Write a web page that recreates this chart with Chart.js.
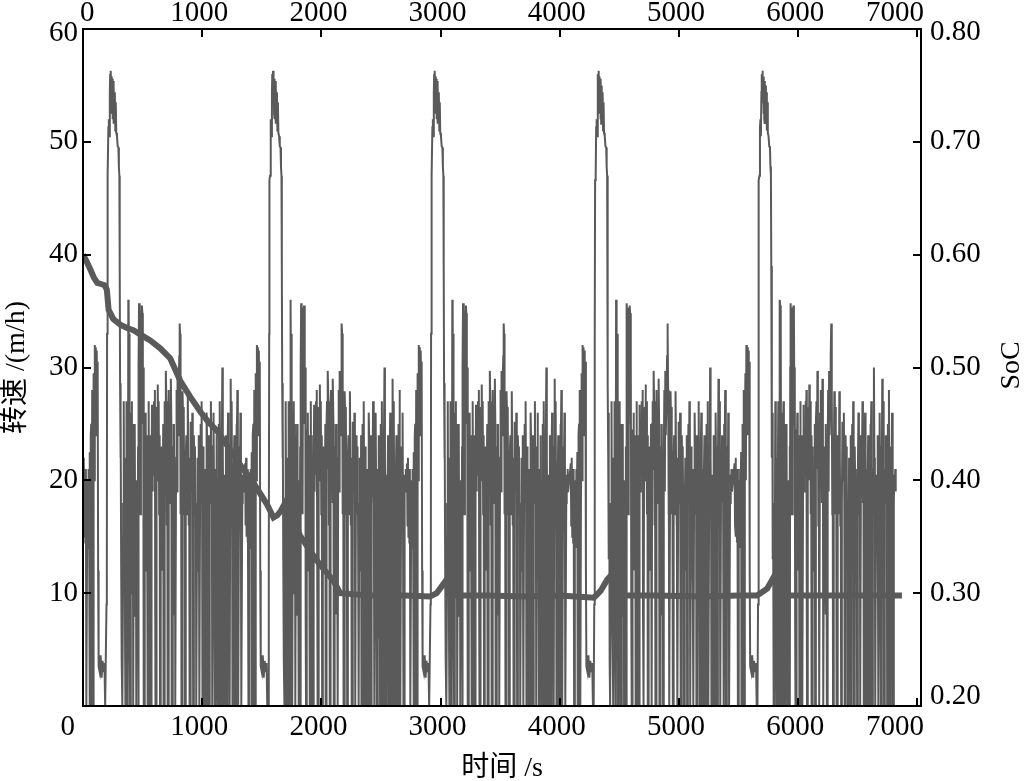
<!DOCTYPE html>
<html>
<head>
<meta charset="utf-8">
<script src="https://cdn.jsdelivr.net/npm/chart.js@4.4.1/dist/chart.umd.min.js"></script>
<style>
html,body{margin:0;padding:0;background:#fff;}
#wrap{width:1024px;height:781px;}
</style>
</head>
<body>
<div id="wrap"><canvas id="c" width="1024" height="781"></canvas></div>
<script>
// ---- tick labels / axis titles ----
const timeTicks = [0, 1000, 2000, 3000, 4000, 5000, 6000, 7000];
const speedTicks = [10, 20, 30, 40, 50, 60];
const socTicks = [0.20, 0.30, 0.40, 0.50, 0.60, 0.70, 0.80];
const xTitle = '时间 /s';
const yTitle = '转速 /(m/h)';
const y2Title = 'SoC';

// ---- speed: the same drive cycle is repeated five times in the picture ----
// start time of each repetition (s), read from the positions of the five 56 m/h peaks
const cycleStarts = [0, 1360, 2718, 4092, 5466];
// time within one repetition (s)
const cycleTime = [
  0,4,8,12,16,20,24,28,33,35,39,43,47,51,55,58,63,65,69,73,77,80,85,87,91,95,99,103,107,111,115,119,123,127,131,
  140,148,156,164,172,180,186,192,197,200,
  202,204,209,213,217,221,225,228,231,234,237,240,243,246,249,252,255,259,263,267,271,275,279,285,291,297,301,305,308,311,314,317,320,323,326,
  330,335,338,342,346,350,353,356,361,363,367,371,374,377,380,383,386,389,392,395,
  400,402,406,410,414,418,421,426,428,432,436,440,444,447,452,454,458,462,465,467,
  470,474,478,482,486,490,494,498,502,505,508,511,516,518,522,526,530,534,538,541,
  544,549,551,555,559,562,565,
  568,573,575,579,583,587,591,595,599,603,
  606,608,613,615,619,623,627,631,635,639,
  643,646,651,653,657,661,665,669,673,676,
  681,683,687,691,695,699,703,707,710,715,
  717,721,725,729,733,737,741,744,749,751,
  755,759,763,767,771,774,779,781,785,789,
  793,797,801,805,808,811,814,817,820,823,
  826,831,833,837,841,845,849,853,856,861,
  863,867,871,875,879,883,887,891,894,899,
  901,905,909,913,917,921,924,929,931,935,
  939,943,947,950,955,957,961,965,969,973,
  976,981,983,987,991,995,999,1002,1007,1009,
  1013,1017,1021,1025,1028,1033,1035,1039,1043,1047,
  1051,1054,1059,1061,1065,1069,1073,1077,1081,1084,
  1089,1091,1095,1099,1103,1106,1111,1113,1117,1121,
  1125,1129,1132,1137,1139,1143,1147,1151,1154,1159,
  1161,1165,1169,1173,1177,1180,1185,1187,1191,1195,
  1199,1203,1206,1211,1213,1217,1221,1225,1228,1233,
  1235,1239,1243,1247,1251,1254,1259,1261,1265,1269,
  1273,1277,1280,1285,1287,1291,1295,1299,1302,1307,
  1309,1313,1317,1321,1325,1328,1333,1336,1340,1344,
  1348,1352
];
// speed (m/h) at those times
const cycleSpeed = [
  21.5,16,22,15,20,14.5,21,0,0,16,20,14,21,18,22.5,0,0,24,25,10,28,0,0,24,29.5,20,32,30,31.8,24,31.5,28,30.5,12,3.5,
  3,4.5,2.5,4,3,3.8,0,0,9,12,
  33,46.6,47,51.3,52,50.5,54.4,56,53.5,56.3,54,55.8,52.5,55.6,52,55.4,51.6,55,52,54.4,51,53.5,50.8,50.5,49.6,49.5,47.8,47,39,28.6,22,26,13,18,4,
  0,0,15,27,12,22,5,0,0,19,27,9.5,24,0,36,35.5,27,33,9.5,0,
  0,26,21,27,10,25,0,0,24,17,25,8,20,0,0,20,11,23,0,30,
  35.7,34.5,35.3,17,35,34.2,35.5,34.8,25,30,7.7,0,0,24.5,16,26,12,22,17,24,
  0,0,27,12,24,6,21,
  0,0,20,26.7,19,24,20.5,27,22,28,
  8,0,0,22,26.5,20,28.5,23,27,17,
  24,0,0,21,23,12,13,19,25,0,
  0,25,27,21,29.7,27,16,22,0,0,
  26,28,20,24,18,29,25,0,0,19,
  23,18,25,8.1,21,0,0,22,28,19,
  29.7,24,26,29,31,33.9,33,28,17,24,
  0,0,20,27.9,25,26.5,17,22,0,0,
  22,24,18,17,27.9,22,16,19,0,0,
  18,25.2,24,20,26,17,0,0,24,21.5,
  23,17,18,0,0,17,22,12,12.5,24,
  0,0,21,25,19,27,18,0,0,23,
  18.9,21,11,11.5,0,0,20,26,22.5,17,
  24,0,0,24,19,18.5,27,18,22,0,
  0,23,26,19,21,0,0,21,18.9,24,
  6,20,0,0,25,22,27,17,0,0,
  19,21,30,22,17,0,0,18,20.5,19,
  24,18,0,0,22,26,19,23,0,0,
  20,29,19,27,16,0,0,21,18.9,24,
  18,22,0,0,25,22,28,17,0,0,
  19,23,19,26,15,0,0,18,20.5,19,
  21,19
];

// ---- SoC ----
const socTime = [0,30,61,90,120,150,180,200,215,254,313,370,423,500,564,648,732,817,900,983,1050,1123,1190,1262,1330,1402,1470,1542,1570,1598,1630,1660,1696,1710,1738,1780,1821,1890,1961,2030,2101,2157,2400,2700,2911,2967,3023,3065,3085,3095,3107,3400,3700,4000,4286,4342,4398,4440,4450,4460,4800,5200,5500,5655,5739,5809,5818,5828,6200,6500,6870];
const socValue = [0.600,0.594,0.587,0.580,0.575,0.574,0.573,0.569,0.551,0.543,0.538,0.535,0.533,0.528,0.524,0.517,0.508,0.488,0.474,0.461,0.452,0.444,0.434,0.423,0.412,0.402,0.391,0.379,0.373,0.367,0.369,0.373,0.380,0.377,0.367,0.360,0.351,0.340,0.329,0.320,0.311,0.300,0.298,0.298,0.297,0.300,0.308,0.314,0.316,0.310,0.298,0.298,0.297,0.298,0.296,0.302,0.312,0.317,0.308,0.298,0.298,0.297,0.298,0.298,0.304,0.317,0.308,0.298,0.298,0.298,0.298];

// ---- build library tables ----
const speedPoints = [];
cycleStarts.forEach(s => cycleTime.forEach((t, i) => speedPoints.push({ x: s + t, y: cycleSpeed[i] })));
const socPoints = socTime.map((t, i) => ({ x: t, y: socValue[i] }));

const LINE = '#5a5a5a';
const FONT_FAMILY = "'Liberation Serif', 'Times New Roman', 'Noto Sans CJK SC', serif";

// draws frame, inward ticks, tick labels and axis titles
const frame = {
  id: 'frame',
  afterDraw(chart) {
    const { ctx, chartArea: a, scales } = chart;
    ctx.save();
    ctx.strokeStyle = '#000';
    ctx.lineWidth = 2;
    ctx.strokeRect(a.left, a.top, a.right - a.left, a.bottom - a.top);
    ctx.beginPath();
    timeTicks.forEach(v => {
      if (v === 0) return;
      const x = Math.round(scales.x.getPixelForValue(v));
      ctx.moveTo(x, a.bottom); ctx.lineTo(x, a.bottom - 8);
      ctx.moveTo(x, a.top); ctx.lineTo(x, a.top + 8);
    });
    speedTicks.forEach(v => {
      const y = Math.round(scales.y.getPixelForValue(v));
      ctx.moveTo(a.left, y); ctx.lineTo(a.left + 8, y);
    });
    socTicks.forEach(v => {
      const y = Math.round(scales.y2.getPixelForValue(v));
      ctx.moveTo(a.right, y); ctx.lineTo(a.right - 8, y);
    });
    ctx.stroke();

    ctx.fillStyle = '#000';
    ctx.font = '29px ' + FONT_FAMILY;
    ctx.textBaseline = 'middle';
    // time tick labels (top and bottom)
    const last = timeTicks.length - 1;
    timeTicks.forEach((v, i) => {
      const x = scales.x.getPixelForValue(v);
      const label = String(v);
      if (i === 0) {
        ctx.textAlign = 'left';  ctx.fillText(label, a.left - 3, 13);
        ctx.textAlign = 'right'; ctx.fillText(label, a.left - 8, a.bottom + 21);
      } else if (i === last) {
        ctx.textAlign = 'right';
        ctx.fillText(label, a.right + 3, 13);
        ctx.fillText(label, a.right + 3, a.bottom + 21);
      } else {
        ctx.textAlign = 'center';
        ctx.fillText(label, x - 3, 13);
        ctx.fillText(label, x - 3, a.bottom + 21);
      }
    });
    // speed tick labels (left)
    ctx.textAlign = 'right';
    speedTicks.forEach(v => {
      const y = Math.min(Math.max(scales.y.getPixelForValue(v), a.top + 4), a.bottom - 10);
      ctx.fillText(String(v), a.left - 5, y);
    });
    // SoC tick labels (right)
    ctx.textAlign = 'left';
    socTicks.forEach(v => {
      const y = Math.min(Math.max(scales.y2.getPixelForValue(v), a.top + 3), a.bottom - 10);
      ctx.fillText(v.toFixed(2), a.right + 9, y);
    });

    // axis titles
    ctx.font = '28px ' + FONT_FAMILY;
    ctx.textAlign = 'center';
    ctx.textBaseline = 'alphabetic';
    ctx.fillText(xTitle, (a.left + a.right) / 2, 776);
    ctx.save();
    ctx.translate(17, (a.top + a.bottom) / 2);
    ctx.rotate(-Math.PI / 2);
    ctx.textBaseline = 'middle';
    ctx.fillText(yTitle, 0, 0);
    ctx.restore();
    ctx.save();
    ctx.translate(1012, (a.top + a.bottom) / 2 - 2);
    ctx.rotate(-Math.PI / 2);
    ctx.textBaseline = 'middle';
    ctx.fillText(y2Title, 0, 0);
    ctx.restore();
    ctx.restore();
  }
};

const noGrid = { display: false, drawTicks: false };
const border = { display: true, color: '#000', width: 2 };
const hiddenTicks = { display: false };

new Chart(document.getElementById('c'), {
  type: 'line',
  data: {
    datasets: [
      { data: socPoints, xAxisID: 'x', yAxisID: 'y2', borderColor: LINE, borderWidth: 6, pointRadius: 0, tension: 0, order: 0 },
      { data: speedPoints, xAxisID: 'x', yAxisID: 'y', borderColor: LINE, borderWidth: 2, pointRadius: 0, tension: 0, order: 1 }
    ]
  },
  options: {
    responsive: false,
    animation: false,
    parsing: false,
    normalized: true,
    layout: { padding: 0 },
    plugins: { legend: { display: false }, tooltip: { enabled: false } },
    scales: {
      x: {
        type: 'linear', position: 'bottom', min: 0, max: 7030,
        afterBuildTicks: s => { s.ticks = timeTicks.map(v => ({ value: v })); },
        ticks: hiddenTicks, grid: noGrid, border: border,
        afterFit: s => { s.height = 75; }
      },
      x2: {
        type: 'linear', position: 'top', min: 0, max: 7030,
        afterBuildTicks: s => { s.ticks = timeTicks.map(v => ({ value: v })); },
        ticks: hiddenTicks, grid: noGrid, border: border,
        afterFit: s => { s.height = 29; }
      },
      y: {
        type: 'linear', position: 'left', min: 0, max: 60,
        afterBuildTicks: s => { s.ticks = speedTicks.map(v => ({ value: v })); },
        ticks: hiddenTicks, grid: noGrid, border: border,
        afterFit: s => { s.width = 83; }
      },
      y2: {
        type: 'linear', position: 'right', min: 0.2, max: 0.8,
        afterBuildTicks: s => { s.ticks = socTicks.map(v => ({ value: v })); },
        ticks: hiddenTicks, grid: noGrid, border: border,
        afterFit: s => { s.width = 103; }
      }
    }
  },
  plugins: [frame]
});
</script>
</body>
</html>
